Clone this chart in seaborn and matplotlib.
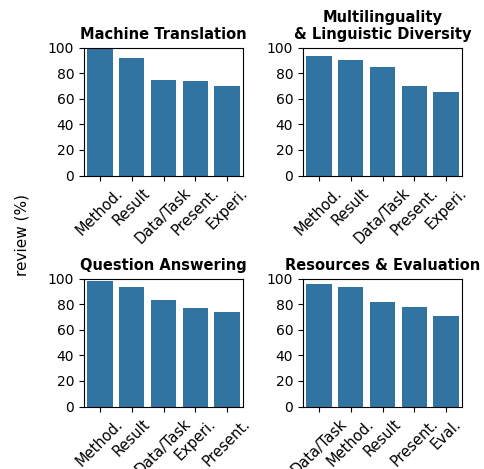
import matplotlib
matplotlib.use("Agg")
import matplotlib.pyplot as plt
import seaborn as sns

titles = ["Machine Translation", "Multilinguality\n& Linguistic Diversity",
          "Question Answering", "Resources & Evaluation"]

mt_cats = ["Method.", "Result", "Data/Task", "Present.", "Experi."]
mt_vals = [99, 92, 75, 74, 70]

ml_cats = ["Method.", "Result", "Data/Task", "Present.", "Experi."]
ml_vals = [93.5, 90, 85, 70, 65]

qa_cats = ["Method.", "Result", "Data/Task", "Experi.", "Present."]
qa_vals = [98, 93, 83, 77, 74]

re_cats = ["Data/Task", "Method.", "Result", "Present.", "Eval."]
re_vals = [96, 93, 82, 78, 71]

ylabel = "review (%)"
yticks = [0, 20, 40, 60, 80, 100]

W, H = 484, 469
fig = plt.figure(figsize=(W / 100, H / 100), dpi=100)

lefts = [84, 303]
tops = [47.5, 278.5]
aw, ah = 159, 128

panels = [(mt_cats, mt_vals), (ml_cats, ml_vals), (qa_cats, qa_vals), (re_cats, re_vals)]
for i, (cats, vals) in enumerate(panels):
    r, c = divmod(i, 2)
    ax = fig.add_axes([lefts[c] / W, 1 - (tops[r] + ah) / H, aw / W, ah / H])
    sns.barplot(x=cats, y=vals, ax=ax)
    ax.set_ylim(0, 100)
    ax.set_yticks(yticks)
    ax.set_xlabel("")
    ax.set_ylabel("")
    ax.set_title(titles[i], fontsize=10.5, fontweight="bold")
    ax.tick_params(axis="y", labelsize=10)
    ax.tick_params(axis="x", labelsize=10.5, rotation=45)

fig.text(22.5 / W, 0.5, ylabel, rotation=90, ha="center", va="center", fontsize=11)

fig.savefig("out.png", dpi=100)
